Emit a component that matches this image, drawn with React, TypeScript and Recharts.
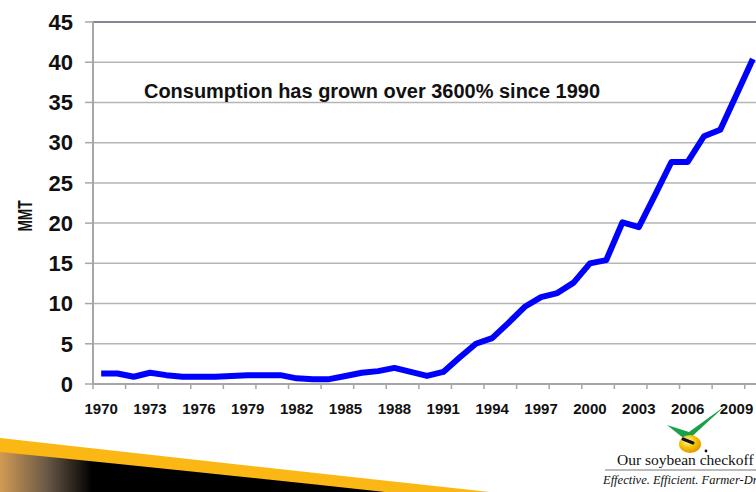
import React from "react"
import { LineChart, Line, XAxis, YAxis, CartesianGrid, ReferenceLine } from "recharts"

const years = [
  1970, 1971, 1972, 1973, 1974, 1975, 1976, 1977, 1978, 1979,
  1980, 1981, 1982, 1983, 1984, 1985, 1986, 1987, 1988, 1989,
  1990, 1991, 1992, 1993, 1994, 1995, 1996, 1997, 1998, 1999,
  2000, 2001, 2002, 2003, 2004, 2005, 2006, 2007, 2008, 2009, 2010,
]

// consumption, million metric tons
const mmt = [
  1.3, 1.3, 0.9, 1.4, 1.1, 0.9, 0.9, 0.9, 1.0, 1.1,
  1.1, 1.1, 0.7, 0.6, 0.6, 1.0, 1.4, 1.6, 2.0, 1.5,
  1.0, 1.5, 3.3, 5.0, 5.7, 7.6, 9.6, 10.8, 11.3, 12.6,
  15.0, 15.4, 20.1, 19.5, 23.5, 27.6, 27.6, 30.8, 31.6, 36.0, 40.4,
]

const yearLabels = [1970, 1973, 1976, 1979, 1982, 1985, 1988, 1991, 1994, 1997, 2000, 2003, 2006, 2009]
const tickMarks = [
  1969.5, 1971.5, 1973.5, 1975.5, 1977.5, 1979.5, 1981.5, 1983.5, 1985.5, 1987.5, 1989.5,
  1991.5, 1993.5, 1995.5, 1997.5, 1999.5, 2001.5, 2003.5, 2005.5, 2007.5, 2009.5,
]
const yTicks = [0, 5, 10, 15, 20, 25, 30, 35, 40, 45]

const data = years.map((year, i) => ({ year, mmt: mmt[i] }))
const allXTicks = [...tickMarks, ...yearLabels].sort((a, b) => a - b)

const FONT = '"Liberation Sans", Arial, sans-serif'
const SERIF = '"Liberation Serif", "Times New Roman", serif'
const AXIS_GRAY = "#a6a6a6"

// labels every 3 years, tick marks every 2 years between categories
const YearTick = (props: any) => {
  const { x, y, payload } = props
  const v = payload.value
  const axisY = y - 5
  return (
    <g>
      {tickMarks.includes(v) && (
        <line x1={x} x2={x} y1={axisY} y2={axisY + 5} stroke={AXIS_GRAY} strokeWidth={1.5} />
      )}
      {yearLabels.includes(v) && (
        <text x={x} y={axisY + 30} textAnchor="middle" fontFamily={FONT} fontWeight={700} fontSize={15} fill="#111">
          {v}
        </text>
      )}
    </g>
  )
}

export default function App() {
  return (
    <div style={{ position: "absolute", left: 0, top: 0, width: 756, height: 492, overflow: "hidden", background: "#fff" }}>
      <LineChart width={761} height={492} data={data} margin={{ top: 22, right: 0, bottom: 78, left: 0 }}>
        <CartesianGrid vertical={false} stroke="#b5b5b5" strokeWidth={1.5} />
        <XAxis
          dataKey="year"
          type="number"
          domain={[1969.5, 2010.5]}
          ticks={allXTicks}
          interval={0}
          height={30}
          tickLine={false}
          tickSize={5}
          tickMargin={0}
          tick={<YearTick />}
          axisLine={{ stroke: AXIS_GRAY, strokeWidth: 2 }}
        />
        <YAxis
          domain={[0, 45]}
          ticks={yTicks}
          interval={0}
          width={93}
          tickSize={8}
          tickMargin={12}
          axisLine={{ stroke: AXIS_GRAY, strokeWidth: 2 }}
          tickLine={{ stroke: AXIS_GRAY, strokeWidth: 1.5 }}
          tick={{ fontSize: 22, fontWeight: 700, fill: "#111", fontFamily: FONT }}
        />
        <ReferenceLine y={45} stroke="#8b8199" strokeWidth={2} />
        <Line
          type="linear"
          dataKey="mmt"
          stroke="#0000ff"
          strokeWidth={6}
          strokeLinejoin="round"
          dot={false}
          isAnimationActive={false}
        />
      </LineChart>

      <svg width={756} height={492} style={{ position: "absolute", left: 0, top: 0, pointerEvents: "none" }}>
        <defs>
          <linearGradient id="swooshDark" x1="0" x2="1" y1="0" y2="0">
            <stop offset="0" stopColor="#d29a52" />
            <stop offset="0.12" stopColor="#6b5a48" />
            <stop offset="0.24" stopColor="#000" />
            <stop offset="1" stopColor="#000" />
          </linearGradient>
          <radialGradient id="bean" cx="0.4" cy="0.35" r="0.7">
            <stop offset="0" stopColor="#fff6c8" />
            <stop offset="0.5" stopColor="#f6c400" />
            <stop offset="1" stopColor="#e09000" />
          </radialGradient>
        </defs>

        <text x={144} y={98} fontFamily={FONT} fontWeight={700} fontSize={20} fill="#111" textLength={456} lengthAdjust="spacingAndGlyphs">
          Consumption has grown over 3600% since 1990
        </text>

        <text
          transform="translate(32,216) rotate(-90)"
          textAnchor="middle"
          fontFamily={FONT}
          fontWeight={700}
          fontSize={20}
          fill="#111"
          textLength={31}
          lengthAdjust="spacingAndGlyphs"
        >
          MMT
        </text>

        {/* bottom-left swoosh */}
        <path d="M0,438 Q250,466 490,492 L0,492 Z" fill="#fbb714" />
        <path d="M0,452 Q200,472 385,492 L0,492 Z" fill="url(#swooshDark)" />

        {/* checkoff logo */}
        <path d="M667,425 L687,441 L725,406 L689,432 Z" fill="#1ba04a" />
        <ellipse cx={690} cy={444} rx={11} ry={9} fill="url(#bean)" />
        <line x1={683} y1={439} x2={693} y2={443} stroke="#111" strokeWidth={3} strokeLinecap="round" />
        <circle cx={706} cy={451} r={1.4} fill="#111" />
        <text x={617} y={465} fontFamily={SERIF} fontSize={15.5} fill="#111">
          Our soybean checkoff
        </text>
        <line x1={605} x2={756} y1={470} y2={470} stroke="#777" strokeWidth={1} />
        <text x={603} y={484} fontFamily={SERIF} fontStyle="italic" fontSize={12.5} fill="#111">
          Effective. Efficient. Farmer-Driven.
        </text>
      </svg>
    </div>
  )
}
